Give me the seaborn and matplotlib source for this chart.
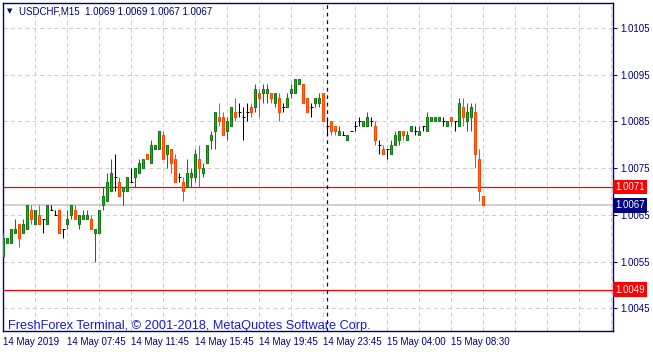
import matplotlib
matplotlib.use("Agg")
import matplotlib.pyplot as plt
import seaborn as sns
import numpy as np
import pandas as pd
from matplotlib.ticker import FormatStrFormatter

sns.set_theme(style="white")
plt.rcParams['font.family'] = ['Liberation Sans', 'DejaVu Sans']

symbol = "USDCHF,M15"

opens = [1.0056, 1.0059, 1.0059, 1.0061, 1.0063, 1.0061, 1.0062, 1.0066, 1.0063, 1.0065,
         1.0064, 1.0063, 1.0066, 1.0065, 1.0066, 1.0062, 1.0063, 1.0065, 1.0066, 1.0063,
         1.0064, 1.0064, 1.0064, 1.0061, 1.0061, 1.0067, 1.0068, 1.0070, 1.0073, 1.0072,
         1.0070, 1.0070, 1.0072, 1.0073, 1.0074, 1.0075, 1.0078, 1.0076, 1.0079, 1.0079,
         1.0082, 1.0078, 1.0079, 1.0077, 1.0073, 1.0072, 1.0071, 1.0073, 1.0073, 1.0077,
         1.0074, 1.0076, 1.0081, 1.0083, 1.0086, 1.0086, 1.0083, 1.0084, 1.0087, 1.0087,
         1.0086, 1.0087, 1.0088, 1.0088, 1.0091, 1.0091, 1.0091, 1.0091, 1.0089, 1.0090,
         1.0088, 1.0088, 1.0091, 1.0091, 1.0093, 1.0093, 1.0090, 1.0088, 1.0089, 1.0089,
         1.0091, 1.0084, 1.0085, 1.0084, 1.0082, 1.0082, 1.0081, 1.0083, 1.0084, 1.0085,
         1.0084, 1.0084, 1.0085, 1.0084, 1.0080, 1.0079, 1.0079, 1.0078, 1.0080, 1.0081,
         1.0083, 1.0081, 1.0083, 1.0083, 1.0082, 1.0084, 1.0083, 1.0085, 1.0085, 1.0085,
         1.0085, 1.0084, 1.0086, 1.0085, 1.0084, 1.0088, 1.0085, 1.0086, 1.0087, 1.0077,
         1.0069]
highs = [1.0061, 1.0060, 1.0062, 1.0064, 1.0063, 1.0064, 1.0067, 1.0067, 1.0066, 1.0067,
         1.0064, 1.0067, 1.0067, 1.0066, 1.0066, 1.0062, 1.0066, 1.0067, 1.0067, 1.0065,
         1.0066, 1.0066, 1.0065, 1.0062, 1.0066, 1.0071, 1.0074, 1.0077, 1.0078, 1.0073,
         1.0071, 1.0073, 1.0075, 1.0075, 1.0077, 1.0077, 1.0078, 1.0081, 1.0080, 1.0083,
         1.0083, 1.0080, 1.0079, 1.0078, 1.0074, 1.0073, 1.0077, 1.0075, 1.0079, 1.0080,
         1.0076, 1.0080, 1.0083, 1.0087, 1.0089, 1.0087, 1.0086, 1.0088, 1.0090, 1.0089,
         1.0088, 1.0089, 1.0089, 1.0093, 1.0092, 1.0093, 1.0093, 1.0091, 1.0091, 1.0091,
         1.0089, 1.0091, 1.0093, 1.0094, 1.0094, 1.0093, 1.0090, 1.0089, 1.0090, 1.0091,
         1.0091, 1.0086, 1.0085, 1.0084, 1.0084, 1.0083, 1.0082, 1.0083, 1.0085, 1.0086,
         1.0085, 1.0087, 1.0086, 1.0085, 1.0081, 1.0080, 1.0079, 1.0081, 1.0083, 1.0083,
         1.0083, 1.0083, 1.0084, 1.0084, 1.0084, 1.0084, 1.0087, 1.0086, 1.0086, 1.0086,
         1.0086, 1.0085, 1.0086, 1.0085, 1.0090, 1.0090, 1.0089, 1.0089, 1.0089, 1.0079,
         1.0069]
lows = [1.0056, 1.0059, 1.0059, 1.0061, 1.0058, 1.0061, 1.0062, 1.0063, 1.0063, 1.0063,
        1.0061, 1.0063, 1.0066, 1.0065, 1.0061, 1.0060, 1.0062, 1.0064, 1.0064, 1.0062,
        1.0064, 1.0064, 1.0062, 1.0055, 1.0061, 1.0066, 1.0068, 1.0070, 1.0070, 1.0069,
        1.0067, 1.0070, 1.0072, 1.0071, 1.0074, 1.0075, 1.0077, 1.0076, 1.0079, 1.0079,
        1.0077, 1.0075, 1.0074, 1.0072, 1.0072, 1.0068, 1.0071, 1.0071, 1.0072, 1.0071,
        1.0073, 1.0076, 1.0079, 1.0079, 1.0084, 1.0082, 1.0081, 1.0084, 1.0085, 1.0086,
        1.0081, 1.0085, 1.0086, 1.0087, 1.0086, 1.0089, 1.0089, 1.0089, 1.0088, 1.0085,
        1.0087, 1.0088, 1.0090, 1.0091, 1.0093, 1.0089, 1.0087, 1.0086, 1.0088, 1.0088,
        1.0085, 1.0082, 1.0082, 1.0082, 1.0082, 1.0082, 1.0081, 1.0083, 1.0083, 1.0084,
        1.0084, 1.0084, 1.0084, 1.0080, 1.0078, 1.0078, 1.0077, 1.0078, 1.0080, 1.0080,
        1.0081, 1.0081, 1.0083, 1.0082, 1.0082, 1.0083, 1.0083, 1.0085, 1.0085, 1.0085,
        1.0084, 1.0084, 1.0084, 1.0083, 1.0084, 1.0084, 1.0083, 1.0083, 1.0075, 1.0068,
        1.0067]
closes = [1.0060, 1.0060, 1.0062, 1.0062, 1.0060, 1.0063, 1.0067, 1.0064, 1.0066, 1.0063,
          1.0064, 1.0067, 1.0066, 1.0065, 1.0061, 1.0062, 1.0064, 1.0067, 1.0064, 1.0065,
          1.0065, 1.0065, 1.0062, 1.0062, 1.0066, 1.0069, 1.0072, 1.0074, 1.0073, 1.0069,
          1.0071, 1.0073, 1.0072, 1.0075, 1.0076, 1.0077, 1.0077, 1.0080, 1.0080, 1.0083,
          1.0077, 1.0080, 1.0076, 1.0072, 1.0073, 1.0070, 1.0074, 1.0074, 1.0078, 1.0075,
          1.0075, 1.0080, 1.0082, 1.0087, 1.0085, 1.0082, 1.0085, 1.0088, 1.0086, 1.0087,
          1.0086, 1.0087, 1.0087, 1.0092, 1.0090, 1.0092, 1.0092, 1.0090, 1.0091, 1.0087,
          1.0088, 1.0090, 1.0092, 1.0094, 1.0094, 1.0089, 1.0087, 1.0088, 1.0090, 1.0090,
          1.0085, 1.0084, 1.0083, 1.0083, 1.0083, 1.0082, 1.0082, 1.0083, 1.0084, 1.0085,
          1.0085, 1.0086, 1.0085, 1.0081, 1.0080, 1.0078, 1.0079, 1.0080, 1.0082, 1.0083,
          1.0082, 1.0082, 1.0084, 1.0083, 1.0083, 1.0084, 1.0086, 1.0086, 1.0086, 1.0086,
          1.0085, 1.0085, 1.0085, 1.0085, 1.0089, 1.0086, 1.0087, 1.0088, 1.0078, 1.0070,
          1.0067]

time_labels = ["14 May 2019", "14 May 07:45", "14 May 11:45", "14 May 15:45",
               "14 May 19:45", "14 May 23:45", "15 May 04:00", "15 May 08:30"]
label_bars = [0, 16, 32, 48, 64, 80, 96, 112]
day_separator_bar = 81
price_ticks = [1.0045, 1.0055, 1.0065, 1.0075, 1.0085, 1.0095, 1.0105]
level_lines = [1.0071, 1.0049]
bid_price = 1.0067
copyright_text = "FreshForex Terminal, © 2001-2018, MetaQuotes Software Corp."

NAVY = "#000080"
GRID = "#cfcfcf"
BULL_FACE, BULL_EDGE = "#2ca52c", "#137a13"
BEAR_FACE, BEAR_EDGE = "#ff8000", "#ff4500"

df = pd.DataFrame(dict(open=opens, high=highs, low=lows, close=closes))
df["bar"] = np.arange(len(df))
df["kind"] = np.where(df.close > df.open, "bull",
                      np.where(df.close < df.open, "bear", "doji"))

fig = plt.figure(figsize=(6.53, 3.52), dpi=100)
ax = fig.add_axes([3 / 653, 21 / 352, 610 / 653, 328 / 352])
ax.set_facecolor("white")

# grid
ax.set_xticks(np.arange(0, 153, 8), minor=True)
ax.grid(which="both", axis="x", color=GRID, lw=0.75, ls=(0, (4, 3)))
ax.grid(which="major", axis="y", color=GRID, lw=0.75, ls=(0, (4, 3)))
ax.set_axisbelow(True)

# wicks
wick_colors = {"bull": BULL_EDGE, "bear": BEAR_EDGE, "doji": "black"}
for kind, sub in df.groupby("kind"):
    ax.vlines(sub.bar, sub.low, sub.high, colors=wick_colors[kind], lw=0.75, zorder=3)

# bodies
for kind, face, edge in [("bull", BULL_FACE, BULL_EDGE), ("bear", BEAR_FACE, BEAR_EDGE)]:
    sub = df[df.kind == kind]
    bottom = np.minimum(sub.open, sub.close)
    height = np.abs(sub.close - sub.open)
    ax.bar(sub.bar, height, bottom=bottom, width=0.5, color=face,
           edgecolor=edge, linewidth=0.75, zorder=4)
dj = df[df.kind == "doji"]
ax.hlines(dj.open, dj.bar - 0.4, dj.bar + 0.4, colors="black", lw=0.75, zorder=4)

# level lines
for lv in level_lines:
    ax.axhline(lv, color="#ff0000", lw=0.9, zorder=2)
ax.axhline(bid_price, color="#c8c8c8", lw=1.2, zorder=2)
ax.axvline(day_separator_bar, color=NAVY, lw=0.9, ls=(0, (3, 3)), zorder=2)

ax.set_xlim(-0.1, 152.4)
ax.set_ylim(1.004012, 1.011035)

# axes style
for s in ax.spines.values():
    s.set_color(NAVY)
    s.set_linewidth(1.0)
ax.yaxis.tick_right()
ax.set_yticks(price_ticks)
ax.yaxis.set_major_formatter(FormatStrFormatter("%.4f"))
ax.tick_params(axis="y", which="major", colors=NAVY, length=3, width=0.75,
               labelsize=7, pad=2, direction="out")
ax.set_xticks(label_bars)
ax.set_xticklabels(time_labels, ha="left")
ax.tick_params(axis="x", which="major", colors=NAVY, length=3, width=0.75,
               labelsize=7, pad=1.5, direction="out")
ax.tick_params(axis="x", which="minor", length=0)

# price labels on right
for lv, fc in [(level_lines[0], "#ff0000"), (level_lines[1], "#ff0000"), (bid_price, NAVY)]:
    ax.annotate(f"{lv:.4f}", xy=(1.0035, lv), xycoords=("axes fraction", "data"),
                ha="left", va="center", color="white", fontsize=7,
                bbox=dict(boxstyle="square,pad=0.22", fc=fc, ec="none"),
                annotation_clip=False, zorder=10)

# title and copyright
fig.text(10 / 653, 1 - 11 / 352, "▼", family="DejaVu Sans", fontsize=5,
         color=NAVY, va="center", ha="center")
title = f"{symbol}  {opens[-1]:.4f} {highs[-1]:.4f} {lows[-1]:.4f} {closes[-1]:.4f}"
fig.text(19 / 653, 1 - 11 / 352, title, fontsize=7, color=NAVY, va="center", ha="left")
fig.text(8 / 653, 1 - 326 / 352, copyright_text, fontsize=9.2, color="#1a1ad8",
         va="center", ha="left")

fig.savefig("out.png", dpi=100, facecolor="white")
